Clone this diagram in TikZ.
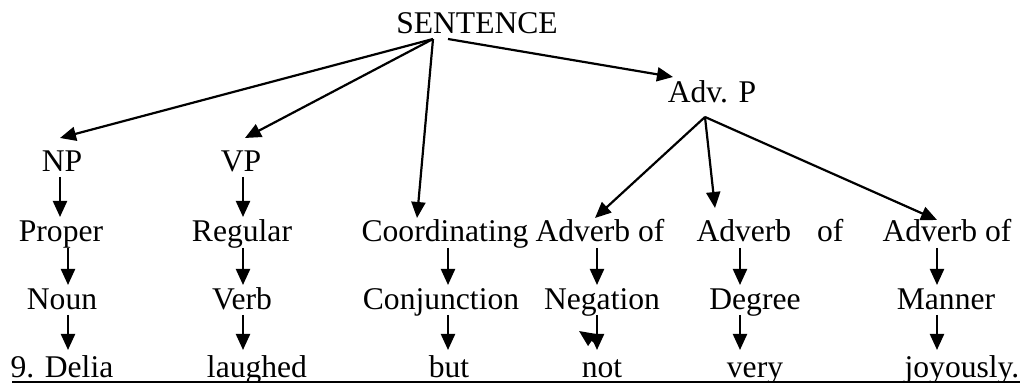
\documentclass[tikz,border=0pt]{standalone}
\usepackage{fontspec}
\setmainfont{Liberation Serif}
\usetikzlibrary{arrows.meta}

\begin{document}
\begin{tikzpicture}[x=0.5pt,y=-0.5pt]
		\tikzset{word/.style={anchor=base,inner sep=0pt,font=\fontsize{15.8}{19}\selectfont},arr/.style={-{Triangle[length=8pt,width=7pt]},line width=1.1pt}};
		\useasboundingbox (0,0) rectangle (1023,383);
		\node[word] (sent) at (477,34) {SENTENCE};
		\node[word] (np) at (62,172) {NP};
		\node[word] (vp) at (241,172) {VP};
		\node[word] (adv) at (712,103) {Adv. P};
		\node[word] (proper) at (61,242) {Proper};
		\node[word] (regular) at (242,242) {Regular};
		\node[word] (coord) at (445,242) {Coordinating};
		\node[word] (negadv) at (600,242) {Adverb of};
		\node[word] (degadv) at (770,242) {Adverb\hspace{9pt} of};
		\node[word] (manadv) at (947,242) {Adverb of};
		\node[word] (noun) at (62,310) {Noun};
		\node[word] (verb) at (242,310) {Verb};
		\node[word] (conj) at (441,310) {Conjunction};
		\node[word] (neg) at (602,310) {Negation};
		\node[word] (deg) at (755,310) {Degree};
		\node[word] (man) at (946,310) {Manner};
		\node[word] (delia) at (62,378) {9. Delia};
		\node[word] (laughed) at (257,378) {laughed};
		\node[word] (but) at (449,378) {but};
		\node[word] (not) at (602,378) {not};
		\node[word] (very) at (755,378) {very};
		\node[word] (joy) at (962,378) {joyously.};
		\draw[arr] ([shift={(-44,5)}]sent.base) -- ([shift={(-2,-34)}]np.base);
		\draw[arr] ([shift={(-44,5)}]sent.base) -- ([shift={(4,-34)}]vp.base);
		\draw[arr] ([shift={(-44,5)}]sent.base) -- ([shift={(-28,-24)}]coord.base);
		\draw[arr] ([shift={(-29,5)}]sent.base) -- ([shift={(-39,-26)}]adv.base);
		\draw[arr] ([shift={(-2,5)}]np.base) -- ([shift={(-1,-25)}]proper.base);
		\draw[arr] ([shift={(2,5)}]vp.base) -- ([shift={(1,-25)}]regular.base);
		\draw[arr] ([shift={(-7,14)}]adv.base) -- ([shift={(-5,-24)}]negadv.base);
		\draw[arr] ([shift={(-7,14)}]adv.base) -- ([shift={(-55,-34)}]degadv.base);
		\draw[arr] ([shift={(-7,14)}]adv.base) -- ([shift={(-10,-22)}]manadv.base);
		\draw[arr] ([shift={(7,6)}]proper.base) -- ([shift={(6,-25)}]noun.base);
		\draw[arr] ([shift={(1,6)}]regular.base) -- ([shift={(1,-25)}]verb.base);
		\draw[arr] ([shift={(3,6)}]coord.base) -- ([shift={(7,-25)}]conj.base);
		\draw[arr] ([shift={(-3,6)}]negadv.base) -- ([shift={(-5,-25)}]neg.base);
		\draw[arr] ([shift={(-30,6)}]degadv.base) -- ([shift={(-15,-25)}]deg.base);
		\draw[arr] ([shift={(-10,6)}]manadv.base) -- ([shift={(-9,-25)}]man.base);
		\draw[arr] ([shift={(6,5)}]noun.base) -- ([shift={(6,-28)}]delia.base);
		\draw[arr] ([shift={(1,5)}]verb.base) -- ([shift={(-14,-28)}]laughed.base);
		\draw[arr] ([shift={(7,5)}]conj.base) -- ([shift={(-1,-28)}]but.base);
		\draw[arr] ([shift={(-5,5)}]neg.base) -- ([shift={(-5,-28)}]not.base);
		\draw[arr] ([shift={(-7,-36)}]not.base) -- ([shift={(-23,-47)}]not.base);
		\draw[arr] ([shift={(-15,5)}]deg.base) -- ([shift={(-15,-28)}]very.base);
		\draw[arr] ([shift={(-9,5)}]man.base) -- ([shift={(-25,-28)}]joy.base);
		\draw[line width=0.75pt] ([shift={(-50,4)}]delia.base) -- ([shift={(58,4)}]joy.base);
	\end{tikzpicture}
\end{document}
